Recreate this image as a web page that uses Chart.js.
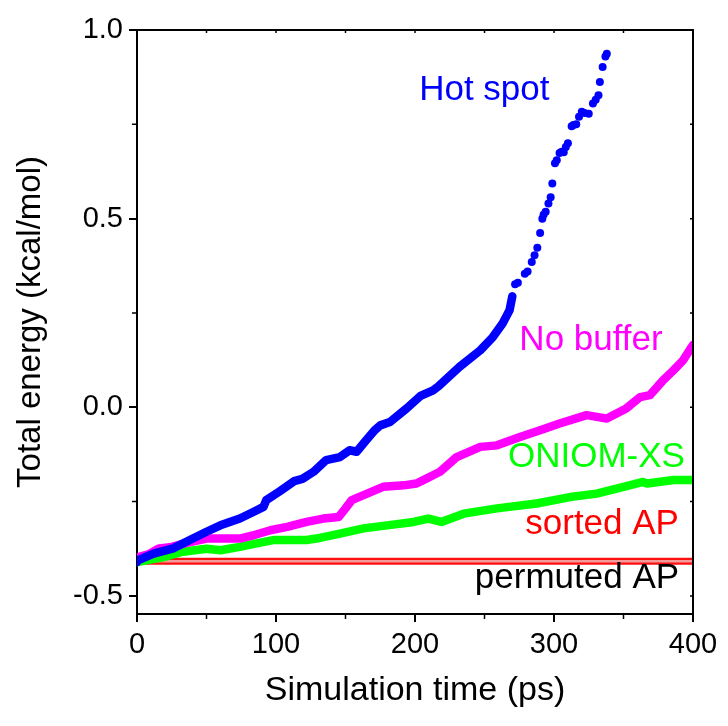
<!DOCTYPE html>
<html>
<head>
<meta charset="utf-8">
<script src="https://cdn.jsdelivr.net/npm/chart.js@4.4.1/dist/chart.umd.min.js"></script>
<style>
  body { margin: 0; background: #fff; }
</style>
</head>
<body>
<canvas id="c" width="728" height="726"></canvas>
<script>
// Energía total vs tiempo de simulación (ps)
const hotSpotTime   = [0, 1, 12, 26, 38, 50, 60, 74, 84, 91, 93, 103, 113, 119, 127, 136, 146, 153, 158, 165, 171, 175, 182, 194, 204, 213, 217, 232, 247, 256, 263, 268, 270];
const hotSpotEnergy = [-0.410, -0.405, -0.388, -0.374, -0.352, -0.330, -0.313, -0.295, -0.277, -0.264, -0.246, -0.222, -0.196, -0.190, -0.171, -0.140, -0.132, -0.114, -0.118, -0.087, -0.061, -0.048, -0.039, -0.003, 0.030, 0.045, 0.056, 0.107, 0.151, 0.186, 0.222, 0.257, 0.294];
// tramo final, puntos sueltos
const hotSpotDotsTime   = [272, 274, 279, 281, 284, 286, 288, 290, 291.6, 292.5, 294, 296, 297.6, 298.8, 300.7, 302, 304, 305.5, 307, 308.5, 310, 312.7, 314, 316, 318, 320, 322, 325, 328, 330, 332, 333, 335, 337, 338];
const hotSpotDotsEnergy = [0.326, 0.330, 0.354, 0.360, 0.385, 0.403, 0.423, 0.462, 0.500, 0.510, 0.518, 0.540, 0.557, 0.593, 0.647, 0.655, 0.674, 0.677, 0.676, 0.690, 0.700, 0.745, 0.748, 0.750, 0.770, 0.783, 0.780, 0.778, 0.805, 0.815, 0.827, 0.862, 0.902, 0.930, 0.937];

const noBufferTime   = [0, 1, 8, 16, 25, 35, 50, 74, 85, 96, 108, 122, 134, 145, 150, 154.5, 163, 177, 192, 201, 206, 218, 230, 247, 259, 275.5, 290, 304, 323.5, 338, 352, 362, 369, 378.6, 386, 393, 399, 400];
const noBufferEnergy = [-0.405, -0.397, -0.390, -0.374, -0.370, -0.360, -0.348, -0.348, -0.338, -0.326, -0.317, -0.304, -0.295, -0.291, -0.268, -0.246, -0.233, -0.211, -0.207, -0.202, -0.193, -0.171, -0.132, -0.105, -0.101, -0.079, -0.061, -0.043, -0.021, -0.030, -0.003, 0.027, 0.032, 0.072, 0.098, 0.125, 0.160, 0.165];

const oniomTime   = [0, 1, 19, 33, 50, 60, 74, 86, 98, 122, 129, 146, 163, 180, 199, 209.6, 219, 235, 259, 287.5, 311.5, 330.7, 350, 364, 367, 386, 400];
const oniomEnergy = [-0.410, -0.410, -0.397, -0.383, -0.375, -0.379, -0.370, -0.361, -0.352, -0.352, -0.348, -0.335, -0.321, -0.313, -0.304, -0.295, -0.304, -0.282, -0.268, -0.255, -0.238, -0.229, -0.211, -0.198, -0.202, -0.193, -0.193];

const apTime           = [0, 400];
const sortedApEnergy   = [-0.408, -0.408];
const permutedApEnergy = [-0.408, -0.408];

const xTicks = [0, 100, 200, 300, 400];
const yTicks = [-0.5, 0.0, 0.5, 1.0];
const xMinorTicks = [50, 150, 250, 350];
const yMinorTicks = [-0.25, 0.25, 0.75];

const labelTexts  = ['Hot spot', 'No buffer', 'ONIOM-XS', 'sorted AP', 'permuted AP'];
const labelTime   = [203, 378.2, 394.2, 389.9, 390];
const labelEnergy = [0.815, 0.151, -0.158, -0.335, -0.480];
const labelColors = ['#0000ff', '#ff00ff', '#00ff00', '#ff0000', '#000000'];
const labelAlign  = ['left', 'right', 'right', 'right', 'right'];

const FONT = '"Liberation Sans", Arial, sans-serif';

const pts = (xs, ys) => xs.map((x, i) => ({ x: x, y: ys[i] }));

function lineSet(label, data, color, width) {
    return {
        label, data, showLine: true, borderColor: color, backgroundColor: color,
        borderWidth: width, pointRadius: 0, borderCapStyle: 'round', borderJoinStyle: 'round', tension: 0
    };
}

const marcoPlugin = {
    id: 'marco',
    afterDatasetsDraw(chart) {
        const { ctx, chartArea: a, scales: { x, y } } = chart;
        ctx.save();
        ctx.strokeStyle = '#000';
        ctx.lineWidth = 2;
        ctx.beginPath();
        ctx.moveTo(a.left, a.top); ctx.lineTo(a.right, a.top);
        ctx.moveTo(a.right, a.top); ctx.lineTo(a.right, a.bottom);
        ctx.stroke();
        // ticks menores y ticks internos arriba/derecha
        ctx.lineWidth = 1.5;
        ctx.beginPath();
        xMinorTicks.forEach(v => {
            const px = x.getPixelForValue(v);
            ctx.moveTo(px, a.bottom); ctx.lineTo(px, a.bottom + 5);
        });
        yMinorTicks.forEach(v => {
            const py = y.getPixelForValue(v);
            ctx.moveTo(a.left, py); ctx.lineTo(a.left - 5, py);
        });
        xTicks.concat(xMinorTicks).forEach(v => {
            const px = x.getPixelForValue(v);
            ctx.moveTo(px, a.top - 1); ctx.lineTo(px, a.top + 3);
        });
        yTicks.concat(yMinorTicks).forEach(v => {
            const py = y.getPixelForValue(v);
            ctx.moveTo(a.right + 1, py); ctx.lineTo(a.right - 3, py);
        });
        ctx.stroke();

        ctx.font = '35px ' + FONT;
        ctx.textBaseline = 'alphabetic';
        labelTexts.forEach((t, i) => {
            ctx.fillStyle = labelColors[i];
            ctx.textAlign = labelAlign[i];
            ctx.fillText(t, x.getPixelForValue(labelTime[i]), y.getPixelForValue(labelEnergy[i]));
        });
        ctx.restore();
    }
};

new Chart(document.getElementById('c').getContext('2d'), {
    type: 'scatter',
    data: {
        datasets: [
            { label: 'Hot spot', data: pts(hotSpotDotsTime, hotSpotDotsEnergy), showLine: false,
              pointRadius: 4, pointHoverRadius: 4, borderWidth: 0, backgroundColor: '#0000ff', borderColor: '#0000ff' },
            lineSet('Hot spot', pts(hotSpotTime, hotSpotEnergy), '#0000ff', 8.5),
            lineSet('No buffer', pts(noBufferTime, noBufferEnergy), '#ff00ff', 8.5),
            lineSet('ONIOM-XS', pts(oniomTime, oniomEnergy), '#00ff00', 8.5),
            lineSet('sorted AP', pts(apTime, sortedApEnergy), '#f49a9a', 2.5),
            lineSet('sorted AP', pts(apTime, sortedApEnergy), '#ff1010', 7),
            lineSet('permuted AP', pts(apTime, permutedApEnergy), '#000000', 1)
        ]
    },
    options: {
        responsive: false,
        animation: false,
        events: [],
        layout: { padding: { top: 30, right: 35, left: 0, bottom: 0 } },
        plugins: { legend: { display: false }, tooltip: { enabled: false } },
        scales: {
            x: {
                type: 'linear', min: 0, max: 400,
                afterFit: s => { s.height = 112; },
                afterBuildTicks: s => { s.ticks = xTicks.map(v => ({ value: v })); },
                grid: { drawOnChartArea: false, tickLength: 8, color: '#000', lineWidth: 2 },
                border: { display: true, color: '#000', width: 2 },
                ticks: { color: '#000', padding: 6, maxRotation: 0, font: { family: FONT, size: 29 } },
                title: { display: true, text: 'Simulation time (ps)', color: '#000',
                         font: { family: FONT, size: 34 }, padding: { top: 0, bottom: 15 } }
            },
            y: {
                type: 'linear', min: -0.548, max: 1.0,
                afterFit: s => { s.width = 137; },
                afterBuildTicks: s => { s.ticks = yTicks.map(v => ({ value: v })); },
                grid: { drawOnChartArea: false, tickLength: 8, color: '#000', lineWidth: 2 },
                border: { display: true, color: '#000', width: 2 },
                ticks: { color: '#000', padding: 6, callback: v => v.toFixed(1), font: { family: FONT, size: 29 } },
                title: { display: true, text: 'Total energy (kcal/mol)', color: '#000',
                         font: { family: FONT, size: 33 }, padding: { top: 11, bottom: 0 } }
            }
        }
    },
    plugins: [marcoPlugin]
});
</script>
</body>
</html>
